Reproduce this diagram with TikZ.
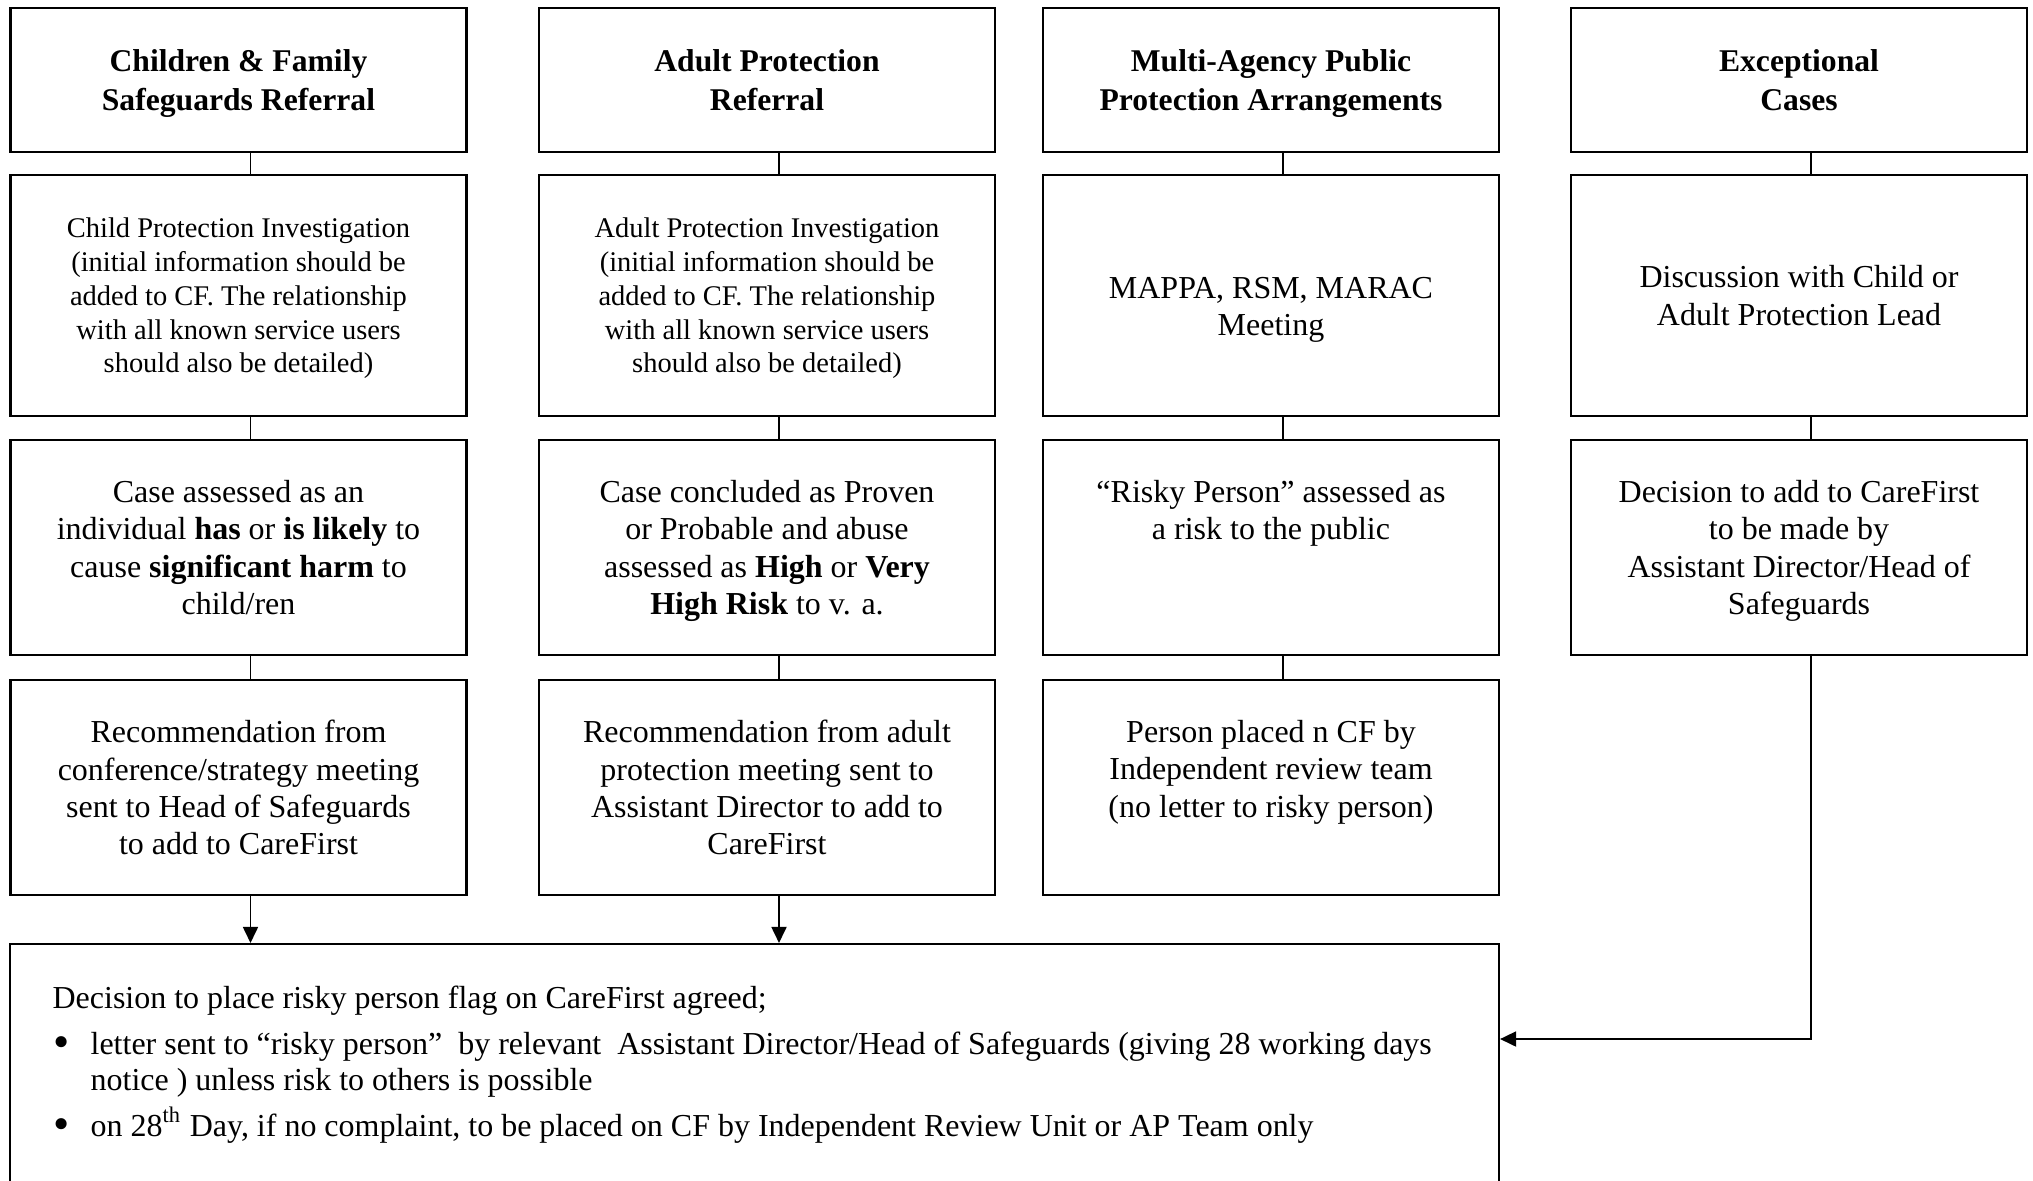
\documentclass[tikz,border=0pt]{standalone}
\usepackage{fontspec}
\setmainfont{Liberation Serif}
\usepackage{tikz}
\usetikzlibrary{arrows.meta,positioning}
\newcommand{\flagbullet}{\makebox[3.8mm][l]{\hspace{0.1mm}\raisebox{-0.25ex}{\scalebox{1.45}{\textbullet}}}}
\tikzset{
  headbox/.style={
    rectangle,
    draw=black,
    line width=0.6pt,
    minimum width=45.6mm,
    minimum height=14.4mm,
    inner sep=0pt,
    align=center,
    text depth=-0.3pt,
    font=\fontsize{9}{11.1}\selectfont\bfseries
  },
  stepbox/.style={
    rectangle,
    draw=black,
    line width=0.6pt,
    minimum width=45.6mm,
    minimum height=21.5mm,
    inner sep=0pt,
    align=center,
    text depth=-0.3pt,
    font=\fontsize{9.1}{10.6}\selectfont
  },
  invbox/.style={
    stepbox,
    minimum height=24.1mm,
    font=\fontsize{8.1}{9.6}\selectfont
  },
  bigbox/.style={
    rectangle,
    draw=black,
    line width=0.6pt,
    minimum width=148.9mm,
    minimum height=30.6mm,
    inner sep=0pt
  },
  notes/.style={
    inner sep=0pt,
    align=left,
    font=\fontsize{9.1}{10.5}\selectfont
  },
  link/.style={
    line width=0.5pt,
    draw=black
  },
  arrow/.style={
    -{Triangle[length=1.6mm,width=1.5mm]},
    line width=0.5pt,
    draw=black
  }
}

\begin{document}
\begin{tikzpicture}
  \useasboundingbox (0,0) rectangle (20.33,-11.8);
  % referral headers
  \node[headbox] (cfHead) at (2.385,-0.80) {Children \& Family\\Safeguards Referral};
  \node[headbox] (apHead) at (7.67,-0.80) {Adult Protection\\Referral};
  \node[headbox] (mpHead) at (12.71,-0.80) {Multi-Agency Public\\Protection Arrangements};
  \node[headbox] (exHead) at (17.99,-0.80) {Exceptional\\Cases};
  % investigations
  \node[invbox] (cfInv) at (2.385,-2.955) {Child Protection Investigation\\(initial information should be\\added to CF. The relationship\\with all known service users\\should also be detailed)};
  \node[invbox] (apInv) at (7.67,-2.955) {Adult Protection Investigation\\(initial information should be\\added to CF. The relationship\\with all known service users\\should also be detailed)};
  \node[invbox,font=\fontsize{9.1}{10.6}\selectfont] (mpInv) at (12.71,-2.955) {\rule{0pt}{12.2pt}MAPPA, RSM, MARAC\\Meeting};
  \node[invbox,font=\fontsize{9.1}{10.6}\selectfont] (exInv) at (17.99,-2.955) {Discussion with Child or\\Adult Protection Lead};
  % assessments
  \node[stepbox] (cfRisk) at (2.385,-5.475) {Case assessed as an\\individual \textbf{has} or \textbf{is likely} to\\cause \textbf{significant harm} to\\child/ren};
  \node[stepbox] (apRisk) at (7.67,-5.475) {Case concluded as Proven\\or Probable and abuse\\assessed as \textbf{High} or \textbf{Very}\\\textbf{High Risk} to v. a.};
  \node[stepbox] (mpRisk) at (12.71,-5.475) {“Risky Person” assessed as\\a risk to the public\\~\\~};
  \node[stepbox] (exRisk) at (17.99,-5.475) {Decision to add to CareFirst\\to be made by\\Assistant Director/Head of\\Safeguards};
  % recommendations
  \node[stepbox] (cfRec) at (2.385,-7.875) {Recommendation from\\conference/strategy meeting\\sent to Head of Safeguards\\to add to CareFirst};
  \node[stepbox] (apRec) at (7.67,-7.875) {Recommendation from adult\\protection meeting sent to\\Assistant Director to add to\\CareFirst};
  \node[stepbox] (mpRec) at (12.71,-7.875) {Person placed n CF by\\Independent review team\\(no letter to risky person)\\~};
  % final decision
  \node[bigbox] (decision) at (7.545,-10.97) {};
  \node[notes,anchor=north west] (decisionText) at ([xshift=4.3mm,yshift=-4.25mm]decision.north west) {Decision to place risky person flag on CareFirst agreed;\\[2.4pt]
    \flagbullet letter sent to “risky person”\ \ by relevant\ \ Assistant Director/Head of Safeguards (giving 28 working days\\
    \hspace*{3.8mm}notice ) unless risk to others is possible\\[2.4pt]
    \flagbullet on 28\textsuperscript{th} Day, if no complaint, to be placed on CF by Independent Review Unit or AP Team only};
  \coordinate (exJoin) at (18.11,-10.39);
  % connectors
  \draw[link] ([xshift=1.2mm]cfHead.south) -- ([xshift=1.2mm]cfInv.north);
  \draw[link] ([xshift=1.2mm]cfInv.south) -- ([xshift=1.2mm]cfRisk.north);
  \draw[link] ([xshift=1.2mm]cfRisk.south) -- ([xshift=1.2mm]cfRec.north);
  \draw[link] ([xshift=1.2mm]apHead.south) -- ([xshift=1.2mm]apInv.north);
  \draw[link] ([xshift=1.2mm]apInv.south) -- ([xshift=1.2mm]apRisk.north);
  \draw[link] ([xshift=1.2mm]apRisk.south) -- ([xshift=1.2mm]apRec.north);
  \draw[link] ([xshift=1.2mm]mpHead.south) -- ([xshift=1.2mm]mpInv.north);
  \draw[link] ([xshift=1.2mm]mpInv.south) -- ([xshift=1.2mm]mpRisk.north);
  \draw[link] ([xshift=1.2mm]mpRisk.south) -- ([xshift=1.2mm]mpRec.north);
  \draw[link] ([xshift=1.2mm]exHead.south) -- ([xshift=1.2mm]exInv.north);
  \draw[link] ([xshift=1.2mm]exInv.south) -- ([xshift=1.2mm]exRisk.north);
  \draw[arrow] ([xshift=1.2mm]cfRec.south) -- ([xshift=1.2mm]cfRec.south |- decision.north);
  \draw[arrow] ([xshift=1.2mm]apRec.south) -- ([xshift=1.2mm]apRec.south |- decision.north);
  \draw[arrow] ([xshift=1.2mm]exRisk.south) |- (decision.east |- exJoin);
\end{tikzpicture}
\end{document}
